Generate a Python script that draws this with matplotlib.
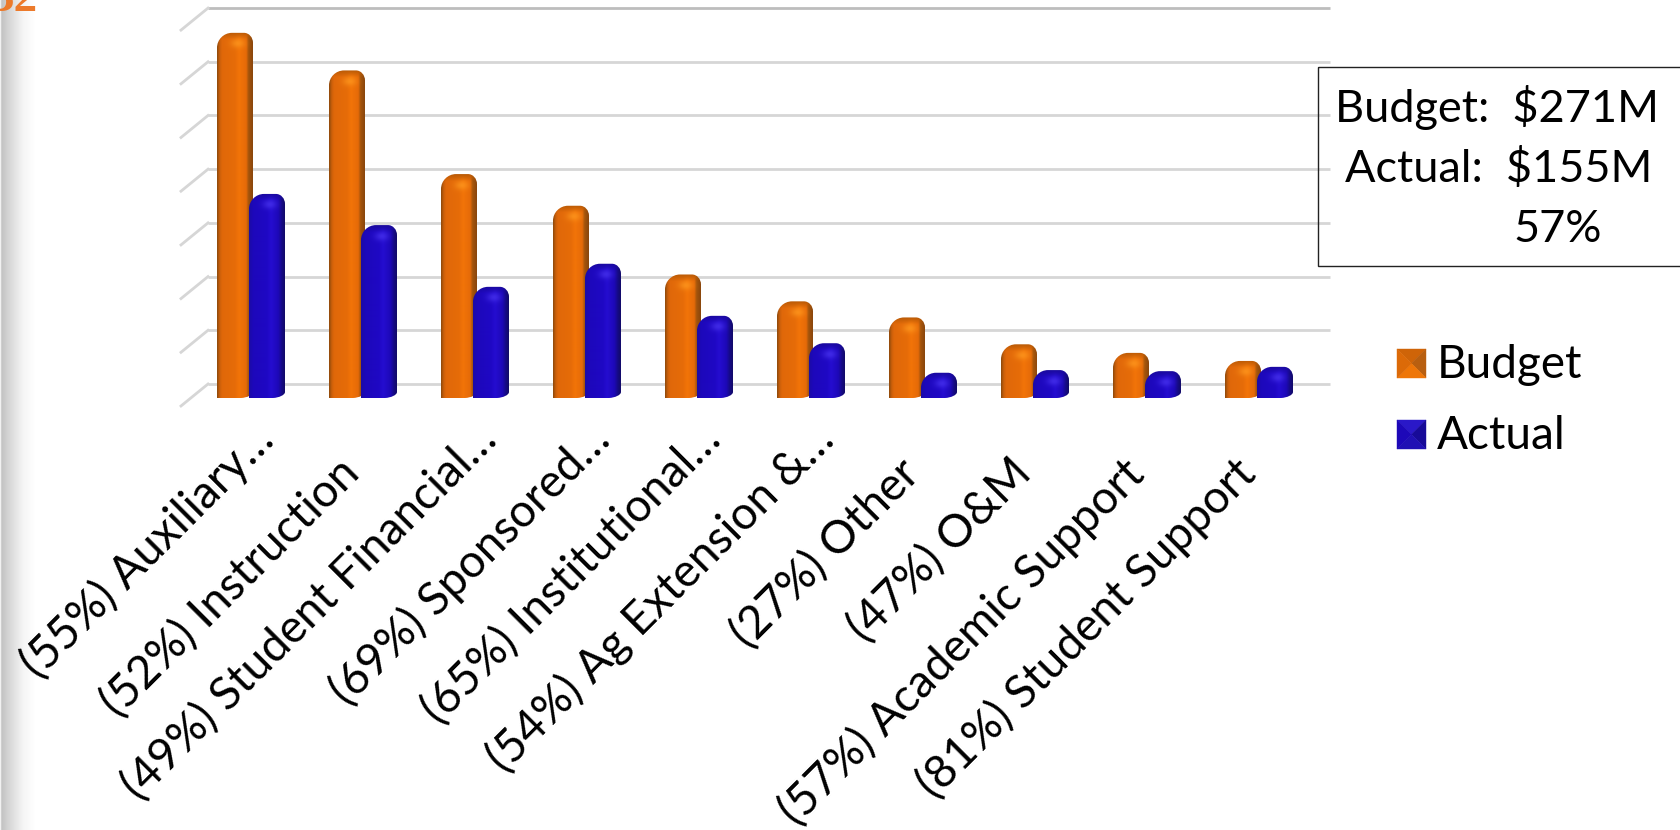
import numpy as np
import matplotlib
matplotlib.use("Agg")
import matplotlib.pyplot as plt
from matplotlib.colors import to_rgb
from matplotlib.patches import PathPatch, Polygon, Rectangle
from matplotlib.path import Path
from matplotlib.transforms import Affine2D

categories = ["(55%) Auxiliary…", "(52%) Instruction", "(49%) Student Financial…",
              "(69%) Sponsored…", "(65%) Institutional…", "(54%) Ag Extension &…",
              "(27%) Other", "(47%) O&M", "(57%) Academic Support", "(81%) Student Support"]
budget = [68.0, 61.0, 41.7, 35.8, 23.0, 18.0, 15.0, 10.0, 8.4, 6.9]
actual = [38.0, 32.2, 20.7, 25.0, 15.3, 10.2, 4.7, 5.2, 5.0, 5.8]
grid_values = [0, 10, 20, 30, 40, 50, 60, 70]
summary_lines = ["Budget:  $271M", "Actual:  $155M", "57%"]

WIDTH, HEIGHT = 1681, 830
GROUP_STEP = 112.0    # pixels between categories
FIRST_GROUP = 251.0
ZERO_Y = 398.0
UNIT = 5.37           # pixels per value unit
BAR_W = 36.0

plt.rcParams["font.family"] = ["Lato", "DejaVu Sans"]

fig = plt.figure(figsize=(WIDTH / 100, HEIGHT / 100), dpi=100)
ax = fig.add_axes([0, 0, 1, 1])
ax.set_axis_off()
xlim = (-FIRST_GROUP / GROUP_STEP, (WIDTH - FIRST_GROUP) / GROUP_STEP)
ylim = ((ZERO_Y - HEIGHT) / UNIT, ZERO_Y / UNIT)

# layout pixels, origin top left
px = Affine2D().scale(1 / WIDTH, -1 / HEIGHT).translate(0, 1) + fig.transFigure


def shaded_bar(cat, left, value, stops, top_rim, glow, zorder):
    """One rounded 3D-looking column, clipped gradient image."""
    h = value * UNIT
    x0 = cat + left / GROUP_STEP
    dx = BAR_W / GROUP_STEP
    lx = lambda p: x0 + p / GROUP_STEP
    ly = lambda p: value - p / UNIT

    ry_l = min(15.0, h * 0.65)
    ry_r = min(10.0, h * 0.45)
    rx_l, rx_r = 15.0, 9.0
    verts = [(lx(0), 0), (lx(0), ly(ry_l)),
             (lx(0), ly(ry_l * 0.45)), (lx(rx_l * 0.45), value), (lx(rx_l), value),
             (lx(BAR_W - rx_r), value),
             (lx(BAR_W - rx_r * 0.45), value), (lx(BAR_W), ly(ry_r * 0.45)), (lx(BAR_W), ly(ry_r)),
             (lx(BAR_W), 6 / UNIT),
             (lx(BAR_W), 3 / UNIT), (lx(BAR_W - 6), 0.3 / UNIT), (lx(BAR_W - 12), 0),
             (lx(0), 0)]
    codes = [Path.MOVETO, Path.LINETO,
             Path.CURVE4, Path.CURVE4, Path.CURVE4,
             Path.LINETO,
             Path.CURVE4, Path.CURVE4, Path.CURVE4,
             Path.LINETO,
             Path.CURVE4, Path.CURVE4, Path.CURVE4,
             Path.CLOSEPOLY]
    outline = PathPatch(Path(verts, codes), facecolor="none", edgecolor="none", transform=ax.transData)
    ax.add_patch(outline)

    rows, cols = max(int(h * 2), 4), int(BAR_W * 2)
    xs = np.linspace(0, 1, cols)
    ys = np.linspace(0, h, rows)
    pos = [s[0] for s in stops]
    rgb = np.zeros((rows, cols, 3))
    for c in range(3):
        rgb[:, :, c] = np.interp(xs, pos, [s[1][c] for s in stops])
    # darker rim along the top, soft highlight under it
    rim = np.clip(1 - ys / 7.0, 0, 1)[:, None, None]
    rgb = rgb * (1 - rim) + np.array(top_rim) * rim
    xx, yy = np.meshgrid(xs * BAR_W, ys)
    spot = np.exp(-(((xx - 0.58 * BAR_W) / 7.0) ** 2 + ((yy - 11.0) / 4.5) ** 2))[:, :, None]
    rgb = rgb * (1 - 0.7 * spot) + np.array(glow) * 0.7 * spot
    im = ax.imshow(np.clip(rgb, 0, 1), extent=(x0, x0 + dx, 0, value), origin="upper",
                   aspect="auto", interpolation="bilinear", zorder=zorder)
    im.set_clip_path(outline)


orange_stops = [(0.0, to_rgb("#8f4a0c")), (0.07, to_rgb("#c95f0a")), (0.14, to_rgb("#e0680a")),
                (0.5, to_rgb("#e66c08")), (0.62, to_rgb("#f27408")), (0.82, to_rgb("#e56a08")),
                (0.88, to_rgb("#a5550c")), (1.0, to_rgb("#8a460c"))]
blue_stops = [(0.0, to_rgb("#1b0ca6")), (0.12, to_rgb("#1d08bb")), (0.5, to_rgb("#1f08c4")),
              (0.62, to_rgb("#250dd0")), (0.82, to_rgb("#1d08b8")), (0.92, to_rgb("#150a84")),
              (1.0, to_rgb("#120a68"))]

# page edge shadow
shade = np.interp(np.linspace(0, 1, 70), [0, 0.04, 0.25, 0.65, 1], [1, 0.76, 0.84, 0.96, 1])
ax.imshow(shade[None, :], cmap="gray", vmin=0, vmax=1, aspect="auto", interpolation="bilinear",
          extent=((0 - FIRST_GROUP) / GROUP_STEP, (36 - FIRST_GROUP) / GROUP_STEP, ylim[0], ylim[1]),
          zorder=0)

# back wall gridlines with their slanted side-wall stubs
for v in grid_values:
    y_px = 384 - (v * UNIT)
    color = "#bdbdbd" if v == grid_values[-1] else "#d6d6d6"
    ax.plot([208, 1330], [y_px, y_px], color=color, lw=2.0, transform=px, zorder=1,
            solid_capstyle="butt")
    ax.plot([208, 181], [y_px, y_px + 22], color="#d6d6d6", lw=2.0, transform=px, zorder=1)

for i, (b, a) in enumerate(zip(budget, actual)):
    shaded_bar(i, -34, b, orange_stops, to_rgb("#b85a06"), to_rgb("#ff9a20"), 3 + i * 0.01)
    shaded_bar(i, -2, a, blue_stops, to_rgb("#1a0a9c"), to_rgb("#4a35f0"), 3.5 + i * 0.01)

ax.set_xlim(*xlim)
ax.set_ylim(*ylim)

# truncated names sit further up and right than the complete ones
for i, name in enumerate(categories):
    offset = (0, -19) if name.endswith("…") else (-26, -53)
    ax.annotate(name, xy=(i, 0), xytext=offset, textcoords="offset pixels", rotation=45,
                rotation_mode="anchor", ha="right", va="top", fontsize=33, color="black",
                annotation_clip=False)

# summary box, lines of the wall show through it
ax.add_patch(Rectangle((1318, 67), 400, 199, facecolor="none", edgecolor="#222222", lw=1.0,
                       transform=px, clip_on=True, zorder=6))
for line, x, y in zip(summary_lines, [1497, 1499, 1558], [108, 169, 229]):
    ax.text(x, y, line, transform=px, ha="center", va="center", fontsize=32.5, color="black", zorder=7)


def legend_icon(x, y, size, top, left, right, bottom):
    """Small bevelled pyramid swatch."""
    c = (x + size / 2, y + size / 2)
    tl, tr, br, bl = (x, y), (x + size, y), (x + size, y + size), (x, y + size)
    for pts, col in [((tl, tr, c), top), ((tr, br, c), right), ((br, bl, c), bottom), ((bl, tl, c), left)]:
        ax.add_patch(Polygon(pts, closed=True, facecolor=col, edgecolor=col, lw=0.3, transform=px, zorder=6))


legend_icon(1397, 349, 29, "#cf6408", "#dc6a08", "#b85f10", "#ee7608")
legend_icon(1397, 420, 29, "#2a18c8", "#1d08b8", "#170a98", "#2010b4")
ax.text(1437, 365, "Budget", transform=px, va="center", ha="left", fontsize=33, color="black", zorder=7)
ax.text(1437, 436, "Actual", transform=px, va="center", ha="left", fontsize=33, color="black", zorder=7)

# cropped page number at the top corner
ax.text(-10, 11, "32", transform=px, family="Liberation Serif", fontweight="bold", fontsize=34,
        color="#ec7a2b", ha="left", va="baseline", zorder=7)

fig.savefig("out.png", dpi=100)
